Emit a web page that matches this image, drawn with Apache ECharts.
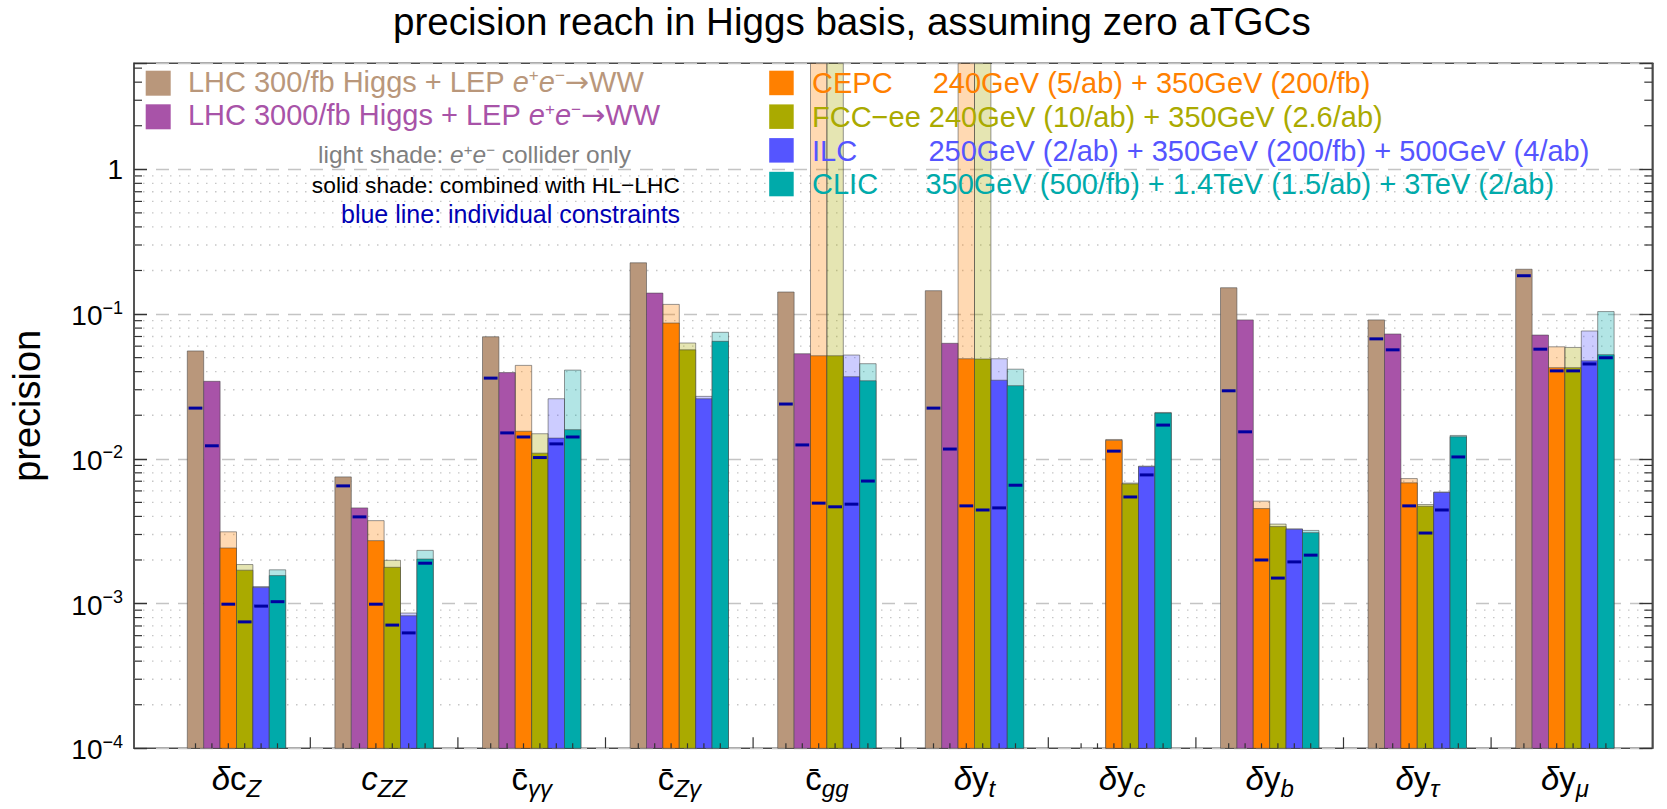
<!DOCTYPE html>
<html>
<head>
<meta charset="utf-8">
<title>precision reach in Higgs basis</title>
<script src="https://cdn.jsdelivr.net/npm/echarts@6/dist/echarts.min.js"></script>
<style>
  html, body { margin: 0; padding: 0; background: #fff; }
  #chart { width: 1667px; height: 809px; }
</style>
</head>
<body>
<div id="chart"></div>
<script>
// coefficient names on the x axis, "_" starts the subscript
const categories = ['δc_Z', 'c_ZZ', 'c\u0304_γγ', 'c\u0304_Zγ', 'c\u0304_gg', 'δy_t', 'δy_c', 'δy_b', 'δy_τ', 'δy_μ'];

// LHC Higgs + LEP e+e- -> WW (solid bars) and the individual constraints (blue lines)
const lhc300     = [0.0556, 0.0075, 0.0697, 0.226, 0.142, 0.145, null, 0.152, 0.0911, 0.204];
const lhc300Ind  = [0.0224, 0.0065, 0.0361, null, 0.0239, 0.0224, null, 0.0295, 0.0674, 0.184];
const lhc3000    = [0.0343, 0.00458, 0.0394, 0.1396, 0.0532, 0.0628, null, 0.0911, 0.0728, 0.0716];
const lhc3000Ind = [0.0123, 0.00397, 0.0151, null, 0.01247, 0.01168, null, 0.01536, 0.0566, 0.0572];

// e+e- colliders: *Only = collider alone (light shade), *Comb = with HL-LHC (solid), *Ind = individual
const cepcOnly = [0.00313, 0.00374, 0.0442, 0.1166, 10, 10, 0.0136, 0.0051, 0.0073, 0.0594];
const cepcComb = [0.00242, 0.00272, 0.0155, 0.0867, 0.0515, 0.0491, 0.0134, 0.00453, 0.00682, 0.0426];
const cepcInd  = [0.00099, 0.00099, 0.01415, null, 0.00494, 0.00473, 0.0113, 0.0020, 0.00473, 0.0405];
const fccOnly  = [0.00186, 0.00199, 0.0149, 0.0631, 10, 10, 0.0068, 0.00354, 0.00483, 0.0588];
const fccComb  = [0.0017, 0.00178, 0.01094, 0.0566, 0.0515, 0.0489, 0.00671, 0.0034, 0.0047, 0.0426];
const fccInd   = [0.000747, 0.00071, 0.0102, null, 0.00466, 0.00443, 0.00545, 0.0015, 0.00307, 0.0405];
const ilcOnly  = [0.00131, 0.00086, 0.026, 0.027, 0.0521, 0.0491, 0.0089, 0.00328, 0.0059, 0.0764];
const ilcComb  = [0.00129, 0.000824, 0.0139, 0.026, 0.0369, 0.0349, 0.00883, 0.00326, 0.00585, 0.0475];
const ilcInd   = [0.00096, 0.000627, 0.01268, null, 0.00486, 0.00458, 0.00774, 0.00194, 0.00443, 0.0452];
const clicOnly = [0.00171, 0.00233, 0.041, 0.0748, 0.0454, 0.0416, 0.0209, 0.0032, 0.0145, 0.104];
const clicComb = [0.00156, 0.00203, 0.0159, 0.0648, 0.0346, 0.032, 0.0207, 0.00309, 0.0142, 0.0524];
const clicInd  = [0.00103, 0.0019, 0.01415, null, 0.00702, 0.00657, 0.0171, 0.00216, 0.0103, 0.0499];

const yMin = 1e-4, yMax = 5.4;

// minor ticks of the log axis (dotted lines only below 1)
const minorTicks = [];
for (let d = -4; d < 1; d++) {
  for (let m = 2; m <= 9; m++) {
    const v = m * Math.pow(10, d);
    if (v < yMax) minorTicks.push(v);
  }
}

const FONT = '"Liberation Sans", Arial, Helvetica, sans-serif';
const ARROW_FONT = '"DejaVu Sans", sans-serif';
const AXIS = '#4a4a4a';
const EDGE = 'rgba(70,70,70,0.55)';
const IND = '#0000a0';

const colliders = [
  { color: '#b9977b', comb: lhc300,  only: null,     ind: lhc300Ind },
  { color: '#a853a8', comb: lhc3000, only: null,     ind: lhc3000Ind },
  { color: '#ff8000', comb: cepcComb, only: cepcOnly, ind: cepcInd },
  { color: '#aaaa00', comb: fccComb,  only: fccOnly,  ind: fccInd },
  { color: '#5555ff', comb: ilcComb,  only: ilcOnly,  ind: ilcInd },
  { color: '#00aaaa', comb: clicComb, only: clicOnly, ind: clicInd }
];

function fade(hex, a) {
  const n = parseInt(hex.slice(1), 16);
  return 'rgba(' + (n >> 16) + ',' + ((n >> 8) & 255) + ',' + (n & 255) + ',' + a + ')';
}

function ok(v) { return v != null && isFinite(v); }

function barRender(slot, c) {
  return function (params, api) {
    const cat = api.value(0);
    const band = api.size([1, 0])[0];
    const w = band / 9;
    const cx = api.coord([cat, 1])[0] + (slot - 2.5) * w;
    const top = params.coordSys.y;
    const base = api.coord([cat, yMin])[1];
    const yOf = v => Math.max(top, api.coord([cat, v])[1]);
    const solid = api.value(1), light = api.value(2), ind = api.value(3);
    const kids = [];
    if (ok(light)) {
      const y = yOf(light);
      kids.push({ type: 'rect', shape: { x: cx - w / 2, y: y, width: w, height: base - y },
        style: { fill: fade(c.color, 0.3), stroke: EDGE, lineWidth: 1 } });
    }
    if (ok(solid)) {
      const y = yOf(solid);
      kids.push({ type: 'rect', shape: { x: cx - w / 2, y: y, width: w, height: base - y },
        style: { fill: c.color, stroke: EDGE, lineWidth: 1 } });
    }
    if (ok(ind)) {
      const y = yOf(ind);
      kids.push({ type: 'line', shape: { x1: cx - 0.42 * w, y1: y, x2: cx + 0.42 * w, y2: y },
        style: { stroke: IND, lineWidth: 3 } });
    }
    return { type: 'group', children: kids };
  };
}

const barSeries = colliders.map((c, slot) => ({
  type: 'custom',
  xAxisIndex: 1,
  yAxisIndex: 2,
  z: 3,
  silent: true,
  data: categories.map((_, i) => [i, c.comb[i], c.only ? c.only[i] : null, c.ind[i]]),
  renderItem: barRender(slot, c)
}));

// bottom ticks: one under every bar, a longer one between groups
const tickSeries = {
  type: 'custom',
  xAxisIndex: 1,
  yAxisIndex: 2,
  z: 4,
  silent: true,
  data: categories.map((_, i) => [i, yMin]),
  renderItem: function (params, api) {
    const i = api.value(0);
    const band = api.size([1, 0])[0];
    const w = band / 9;
    const p = api.coord([i, yMin]);
    const kids = [];
    for (let s = 0; s < 6; s++) {
      const x = p[0] + (s - 2.5) * w;
      kids.push({ type: 'line', shape: { x1: x, y1: p[1], x2: x, y2: p[1] - 5 }, style: { stroke: '#333', lineWidth: 1.2 } });
    }
    if (i < categories.length - 1) {
      const x = p[0] + band / 2;
      kids.push({ type: 'line', shape: { x1: x, y1: p[1], x2: x, y2: p[1] - 11 }, style: { stroke: '#333', lineWidth: 1.2 } });
    }
    return { type: 'group', children: kids };
  }
};

// minor log ticks on both sides plus dotted minor grid lines
const minorSeries = {
  type: 'custom',
  xAxisIndex: 0,
  yAxisIndex: 0,
  z: 1,
  silent: true,
  data: minorTicks.map(v => [0, v]),
  renderItem: function (params, api) {
    const v = api.value(1);
    const cs = params.coordSys;
    const y = api.coord([0, v])[1];
    const kids = [
      { type: 'line', shape: { x1: cs.x, y1: y, x2: cs.x + 8, y2: y }, style: { stroke: '#333', lineWidth: 1.2 } },
      { type: 'line', shape: { x1: cs.x + cs.width - 8, y1: y, x2: cs.x + cs.width, y2: y }, style: { stroke: '#333', lineWidth: 1.2 } }
    ];
    if (v < 1) {
      kids.unshift({ type: 'line', shape: { x1: cs.x, y1: y, x2: cs.x + cs.width, y2: y },
        style: { stroke: '#c6c6c6', lineWidth: 1.3, lineDash: [1.5, 7.5] } });
    }
    return { type: 'group', children: kids };
  }
};

function powLabel(v) {
  const e = Math.log10(v), r = Math.round(e);
  if (Math.abs(e - r) > 1e-6) return '';
  return r === 0 ? '{b|1}' : '{b|10}{s|−' + (-r) + '}';
}

function catLabel(name) {
  const parts = name.split('_');
  const main = parts[0], sub = parts[1] || '';
  let out = '';
  if (main[0] === 'δ') {
    out += '{gi|δ}{m|' + main.slice(1) + '}';
  } else if (main === 'c') {
    out += '{gi|c}';
  } else {
    out += '{m|' + main + '}';
  }
  return out + '{sub|' + sub + '}';
}

const logAxisBase = {
  type: 'log',
  logBase: 10,
  min: yMin,
  max: yMax,
  axisLine: { show: true, lineStyle: { color: AXIS, width: 1.5 } },
  axisTick: { show: true, inside: true, length: 13, lineStyle: { color: '#333', width: 1.4 } }
};

// legend block drawn inside the frame
const sq = 24.5;
const leftRows = [
  { color: '#b9977b', y: 70.7, text: 'LHC 300/fb Higgs + LEP ' },
  { color: '#a853a8', y: 104.3, text: 'LHC 3000/fb Higgs + LEP ' }
];
const rightRows = [
  { color: '#ff8000', y: 70.7, name: 'CEPC', desc: '240GeV (5/ab) + 350GeV (200/fb)', dx: 932.7 },
  { color: '#aaaa00', y: 104.4, name: 'FCC−ee 240GeV (10/ab) + 350GeV (2.6/ab)', desc: '', dx: 0 },
  { color: '#5555ff', y: 138.1, name: 'ILC', desc: '250GeV (2/ab) + 350GeV (200/fb) + 500GeV (4/ab)', dx: 928.4 },
  { color: '#00aaaa', y: 171.8, name: 'CLIC', desc: '350GeV (500/fb) + 1.4TeV (1.5/ab) + 3TeV (2/ab)', dx: 925.4 }
];

function eeRich(color, size, supSize, supPad) {
  return {
    n: { fill: color, fontSize: size, fontFamily: FONT, verticalAlign: 'bottom' },
    i: { fill: color, fontSize: size, fontFamily: FONT, fontStyle: 'italic', verticalAlign: 'bottom' },
    a: { fill: color, fontSize: size, fontFamily: ARROW_FONT, verticalAlign: 'bottom' },
    s: { fill: color, fontSize: supSize, fontFamily: FONT, verticalAlign: 'bottom', padding: [0, 0, supPad, 0] }
  };
}

const graphics = [];
leftRows.forEach(r => {
  graphics.push({ type: 'rect', shape: { x: 145.7, y: r.y, width: 25, height: 25 }, style: { fill: r.color }, z: 10 });
  graphics.push({ type: 'text', x: 187.9, y: r.y + 11, z: 10, style: {
    text: '{n|' + r.text + '}{i|e}{s|+}{i|e}{s|−}{a|→}{n|WW}',
    rich: eeRich(r.color, 29, 17, 12), verticalAlign: 'middle', align: 'left' } });
});
rightRows.forEach(r => {
  graphics.push({ type: 'rect', shape: { x: 769.2, y: r.y, width: sq, height: sq }, style: { fill: r.color }, z: 10 });
  graphics.push({ type: 'text', x: 812, y: r.y + 12.6, z: 10, style: {
    text: r.name, fill: r.color, font: '29px ' + FONT, verticalAlign: 'middle', align: 'left' } });
  if (r.desc) {
    graphics.push({ type: 'text', x: r.dx, y: r.y + 12.6, z: 10, style: {
      text: r.desc, fill: r.color, font: '29px ' + FONT, verticalAlign: 'middle', align: 'left' } });
  }
});
graphics.push({ type: 'text', x: 318, y: 154, z: 10, style: {
  text: '{n|light shade: }{i|e}{s|+}{i|e}{s|−}{n| collider only}',
  rich: eeRich('#808080', 24.5, 15, 10), verticalAlign: 'middle', align: 'left' } });
graphics.push({ type: 'text', x: 311.8, y: 184.5, z: 10, style: {
  text: 'solid shade: combined with HL−LHC', fill: '#000', font: '22.8px ' + FONT, verticalAlign: 'middle', align: 'left' } });
graphics.push({ type: 'text', x: 341, y: 214, z: 10, style: {
  text: 'blue line: individual constraints', fill: '#0000b4', font: '25px ' + FONT, verticalAlign: 'middle', align: 'left' } });

const chart = echarts.init(document.getElementById('chart'), null, { renderer: 'svg' });
chart.setOption({
  animation: false,
  backgroundColor: '#fff',
  textStyle: { fontFamily: FONT },
  title: {
    text: 'precision reach in Higgs basis, assuming zero aTGCs',
    left: 393, top: 1.5, padding: 0,
    textStyle: { fontSize: 38.6, fontWeight: 'normal', color: '#000', fontFamily: FONT }
  },
  grid: [
    { left: 128.3, right: 14.7, top: 63.3, bottom: 60.7, show: true, borderColor: AXIS, borderWidth: 1.5, backgroundColor: 'transparent' },
    { left: 162.7, right: 28.3, top: 63.3, bottom: 60.7 }
  ],
  xAxis: [
    { gridIndex: 0, type: 'value', min: 0, max: 1, show: false },
    {
      gridIndex: 1, type: 'category', data: categories,
      axisLine: { show: false }, axisTick: { show: false }, splitLine: { show: false },
      axisLabel: {
        interval: 0, margin: 14, formatter: catLabel,
        rich: {
          gi: { fontSize: 33, fontStyle: 'italic', color: '#000', fontFamily: FONT, verticalAlign: 'bottom', padding: [0, 0, 5, 0] },
          m: { fontSize: 33, color: '#000', fontFamily: FONT, verticalAlign: 'bottom', padding: [0, 0, 5, 0] },
          sub: { fontSize: 24, fontStyle: 'italic', color: '#000', fontFamily: FONT, verticalAlign: 'bottom' }
        }
      }
    }
  ],
  yAxis: [
    Object.assign({}, logAxisBase, {
      gridIndex: 0, position: 'left',
      name: 'precision', nameLocation: 'middle', nameGap: 88,
      nameTextStyle: { fontSize: 38, color: '#000', fontFamily: FONT },
      axisLabel: {
        formatter: powLabel, margin: 11,
        rich: {
          b: { fontSize: 28, color: '#000', fontFamily: FONT, verticalAlign: 'bottom' },
          s: { fontSize: 18, color: '#000', fontFamily: FONT, verticalAlign: 'bottom', padding: [0, 0, 13, 0] }
        }
      },
      splitLine: { show: true, lineStyle: { color: '#c4c4c4', width: 1.4, type: [13, 9] } }
    }),
    Object.assign({}, logAxisBase, {
      gridIndex: 0, position: 'right',
      axisLabel: { show: false }, splitLine: { show: false }
    }),
    { gridIndex: 1, type: 'log', logBase: 10, min: yMin, max: yMax, show: false }
  ],
  graphic: graphics,
  series: [minorSeries].concat(barSeries, [tickSeries])
});
</script>
</body>
</html>
